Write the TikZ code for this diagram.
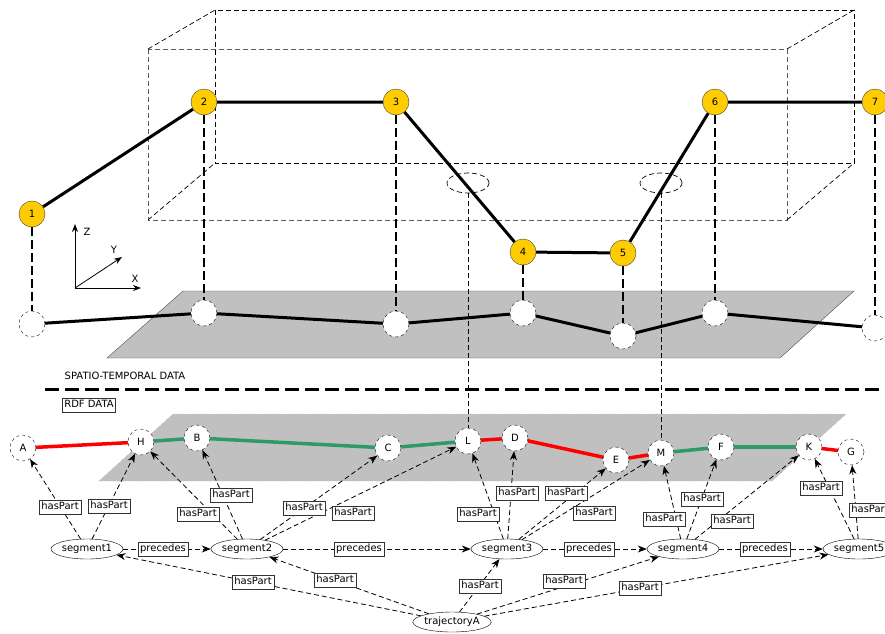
\documentclass[tikz,border=0pt]{standalone}
\usepackage{fontspec}
\setmainfont{DejaVu Sans}
\usetikzlibrary{arrows.meta,shapes.geometric}
\definecolor{Gold}{HTML}{FFCC00}
\definecolor{Plane}{HTML}{C0C0C0}
\definecolor{Green}{HTML}{2E9A68}
\definecolor{Red}{HTML}{FF0000}
\tikzset{
 pt/.style={circle,draw=black!75,fill=Gold,minimum size=26pt,inner sep=0pt},
 gpt/.style={circle,draw=black,dashed,fill=white,minimum size=26pt,inner sep=0pt},
 seg/.style={ellipse,draw,fill=white,minimum width=72pt,minimum height=20pt,inner sep=0pt},
 lbl/.style={draw=black!80,fill=white,inner sep=2pt,text height=8pt,text depth=2.5pt},
 arr/.style={-{Stealth[length=9pt,width=7pt]},dash pattern=on 5pt off 3pt,line width=0.8pt},
 wire/.style={dash pattern=on 5pt off 3pt,line width=0.7pt},
 traj/.style={line width=3pt},
 drop/.style={line width=1.8pt,dash pattern=on 9pt off 4pt},
 rdfline/.style={line width=3.5pt}
}
\begin{document}
\begin{tikzpicture}[x=1pt,y=-1pt,font=\fontsize{10}{12}\selectfont]
\useasboundingbox (0,0) rectangle (885,633);
% Space-time box.
\draw[wire] (215,10) rectangle (854,163);
\draw[wire,black!65] (148,49) rectangle (787,220);
\draw[wire] (148,49) -- (215,10) (787,49) -- (854,10) (148,220) -- (215,163) (787,220) -- (854,163);
\node[ellipse,draw,wire,minimum width=42pt,minimum height=20pt] (ellL) at (468,183) {};
\node[ellipse,draw,wire,minimum width=42pt,minimum height=20pt] (ellM) at (661,183) {};
% Ground plane.
\draw[black!70,fill=Plane] (107,358) -- (183,291) -- (854,291) -- (780,358) -- cycle;
% Axes.
\coordinate (o) at (75,288);
\coordinate (az) at (75,224);
\coordinate (ay) at (122,257);
\coordinate (ax) at (141,288);
\draw[-{Stealth[length=8pt,width=6pt]},line width=0.8pt] (o) -- (az);
\draw[-{Stealth[length=8pt,width=6pt]},line width=0.8pt] (o) -- (ay);
\draw[-{Stealth[length=8pt,width=6pt]},line width=0.8pt] (o) -- (ax);
\node (zlab) at (87,232) {Z};
\node (ylab) at (114,250) {Y};
\node (xlab) at (135,279) {X};
% Points and their shadows on the plane.
\foreach \n/\x/\y/\g in {1/32/214/324,2/204/102/313,3/396/102/324,4/523/252/313,5/623/253/336,6/715/102/313,7/875/102/328} {
 \node[pt] (p\n) at (\x,\y) {\n};
 \node[gpt] (g\n) at (\x,\g) {};
}
\foreach \n in {1,...,7}
 \draw[drop] (p\n) -- (g\n);
\draw[traj] (p1) -- (p2) -- (p3) -- (p4) -- (p5) -- (p6) -- (p7);
\draw[traj] (g1) -- (g2) -- (g3) -- (g4) -- (g5) -- (g6) -- (g7);
% Separator.
\draw[line width=3pt,dash pattern=on 14pt off 6pt] (45,389) -- (885,389);
\node (st) at (125,376) {SPATIO-TEMPORAL DATA};
\node[lbl] (rdf) at (89,405) {RDF DATA};
% RDF plane and points.
\draw[black!25,dashed,fill=Plane] (99,481) -- (173,414) -- (846,414) -- (772,481) -- cycle;
\foreach \n/\x/\y in {A/23/448,H/141/442,B/197/438,C/388/448,L/468/441,D/515/438,E/616/460,M/661/453,F/721/447,K/809/447,G/851/452}
 \node[gpt] (\n) at (\x,\y) {\n};
\foreach \a/\b/\c in {A/H/Red,H/B/Green,B/C/Green,C/L/Green,L/D/Red,D/E/Red,E/M/Red,M/F/Green,F/K/Green,K/G/Red}
 \draw[rdfline,draw=\c] (\a) -- (\b);
\draw[wire] (ellL) -- (L);
\draw[wire] (ellM) -- (M);
% Segments.
\foreach \n/\x in {1/87,2/247,3/507,4/683,5/859}
 \node[seg] (s\n) at (\x,549) {segment\n};
\node[seg,minimum width=75pt] (traj) at (452,622) {trajectoryA};
\foreach \s/\t in {1/A,1/H,2/H,2/B,2/C,2/L,3/L,3/D,3/E,3/M,4/M,4/F,4/K,5/K,5/G}
 \draw[arr] (s\s) -- (\t);
\foreach \a/\b in {1/2,2/3,3/4,4/5}
 \draw[arr] (s\a) -- (s\b);
\foreach \n in {1,...,5}
 \draw[arr] (traj) -- (s\n);
% Edge labels.
\foreach \x/\y [count=\i] in {60/507,109/506,198/514,231/495,304/508,353/513,478/514,517/493,566/493,594/513,664/519,702/499,732/521,821/488,870/510,253/582,335/580,480/586,564/581,640/588}
 \node[lbl] (hp\i) at (\x,\y) {hasPart};
\foreach \x [count=\i] in {163,359,589,765}
 \node[lbl] (pr\i) at (\x,549) {precedes};
\end{tikzpicture}
\end{document}
